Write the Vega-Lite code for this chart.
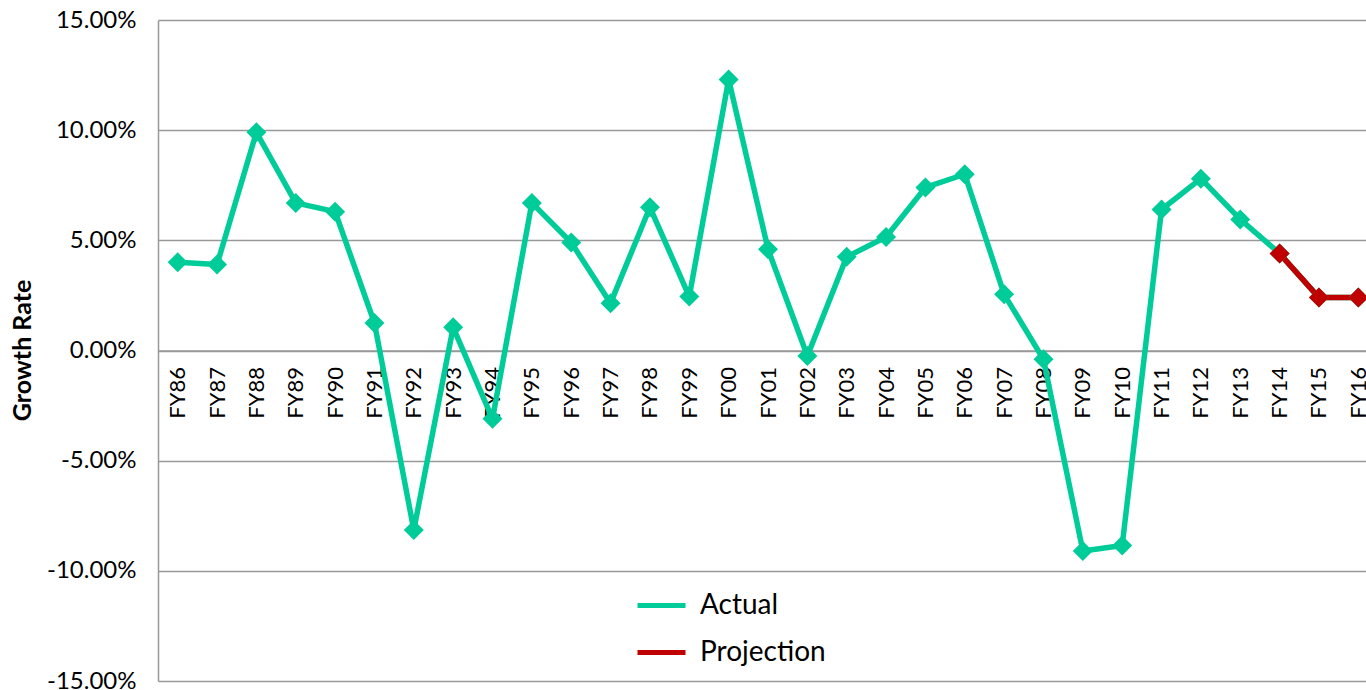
{
  "$schema": "https://vega.github.io/schema/vega-lite/v6.json",
  "autosize": {"type": "none"},
  "padding": {"left": 158, "top": 20, "right": 0, "bottom": 9},
  "width": 1220,
  "height": 661,
  "background": "white",
  "config": {"view": {"stroke": null}, "font": "Lato"},
  "data": {"values": [
    {"year": "FY86", "value": 4.0, "series": "Actual"},
    {"year": "FY87", "value": 3.9, "series": "Actual"},
    {"year": "FY88", "value": 9.9, "series": "Actual"},
    {"year": "FY89", "value": 6.7, "series": "Actual"},
    {"year": "FY90", "value": 6.3, "series": "Actual"},
    {"year": "FY91", "value": 1.25, "series": "Actual"},
    {"year": "FY92", "value": -8.15, "series": "Actual"},
    {"year": "FY93", "value": 1.05, "series": "Actual"},
    {"year": "FY94", "value": -3.1, "series": "Actual"},
    {"year": "FY95", "value": 6.7, "series": "Actual"},
    {"year": "FY96", "value": 4.9, "series": "Actual"},
    {"year": "FY97", "value": 2.15, "series": "Actual"},
    {"year": "FY98", "value": 6.5, "series": "Actual"},
    {"year": "FY99", "value": 2.45, "series": "Actual"},
    {"year": "FY00", "value": 12.3, "series": "Actual"},
    {"year": "FY01", "value": 4.6, "series": "Actual"},
    {"year": "FY02", "value": -0.25, "series": "Actual"},
    {"year": "FY03", "value": 4.25, "series": "Actual"},
    {"year": "FY04", "value": 5.15, "series": "Actual"},
    {"year": "FY05", "value": 7.4, "series": "Actual"},
    {"year": "FY06", "value": 8.0, "series": "Actual"},
    {"year": "FY07", "value": 2.55, "series": "Actual"},
    {"year": "FY08", "value": -0.4, "series": "Actual"},
    {"year": "FY09", "value": -9.1, "series": "Actual"},
    {"year": "FY10", "value": -8.85, "series": "Actual"},
    {"year": "FY11", "value": 6.4, "series": "Actual"},
    {"year": "FY12", "value": 7.8, "series": "Actual"},
    {"year": "FY13", "value": 5.95, "series": "Actual"},
    {"year": "FY14", "value": 4.4, "series": "Actual"},
    {"year": "FY15", "value": 2.4, "series": "Actual"},
    {"year": "FY16", "value": 2.4, "series": "Actual"},
    {"year": "FY14", "value": 4.4, "series": "Projection"},
    {"year": "FY15", "value": 2.4, "series": "Projection"},
    {"year": "FY16", "value": 2.4, "series": "Projection"}
  ]},
  "encoding": {
    "x": {
      "field": "year", "type": "ordinal", "sort": null,
      "scale": {"type": "point", "padding": 0.5},
      "axis": {
        "title": null, "orient": "bottom", "offset": -330.5,
        "labelAngle": -90, "labelAlign": "right", "labelBaseline": "middle",
        "labelPadding": 16, "labelFontSize": 22, "labelColor": "#000000",
        "labelFont": "Lato",
        "ticks": false, "domain": true, "domainColor": "#999999", "domainWidth": 1.5,
        "grid": false, "labelOverlap": false
      }
    },
    "y": {
      "field": "value", "type": "quantitative",
      "scale": {"domain": [-15, 15], "nice": false, "zero": false},
      "axis": {
        "values": [-15, -10, -5, 0, 5, 10, 15],
        "labelExpr": "(datum.value < 0 ? '-' : '') + format(abs(datum.value), '.2f') + '%'",
        "labelFontSize": 24, "labelColor": "#000000", "labelPadding": 22,
        "ticks": false, "domain": true, "domainColor": "#999999", "domainWidth": 1.5,
        "grid": true, "gridColor": "#999999", "gridWidth": 1.5,
        "title": "Growth Rate", "titleFontSize": 25, "titleFontWeight": "bold",
        "titleColor": "#000000", "titleAngle": -90,
        "titleX": -136, "titleY": 330, "titleAlign": "center", "titleBaseline": "middle"
      }
    }
  },
  "layer": [
    {
      "mark": {"type": "line", "strokeWidth": 5.5, "strokeJoin": "round"},
      "encoding": {
        "color": {
          "field": "series", "type": "nominal",
          "scale": {"domain": ["Actual", "Projection"], "range": ["#00CC99", "#C00000"]},
          "legend": {
            "title": null, "orient": "none", "legendX": 477, "legendY": 559,
            "symbolType": "stroke", "symbolSize": 2304, "symbolStrokeWidth": 5,
            "labelFontSize": 28, "labelColor": "#000000", "labelOffset": 12,
            "rowPadding": 6, "padding": 0, "labelFont": "Lato"
          }
        }
      }
    },
    {
      "mark": {"type": "point", "shape": "diamond", "filled": true, "size": 400, "opacity": 1},
      "encoding": {
        "fill": {
          "field": "series", "type": "nominal",
          "scale": {"domain": ["Actual", "Projection"], "range": ["#00CC99", "#C00000"]},
          "legend": null
        }
      }
    }
  ]
}
